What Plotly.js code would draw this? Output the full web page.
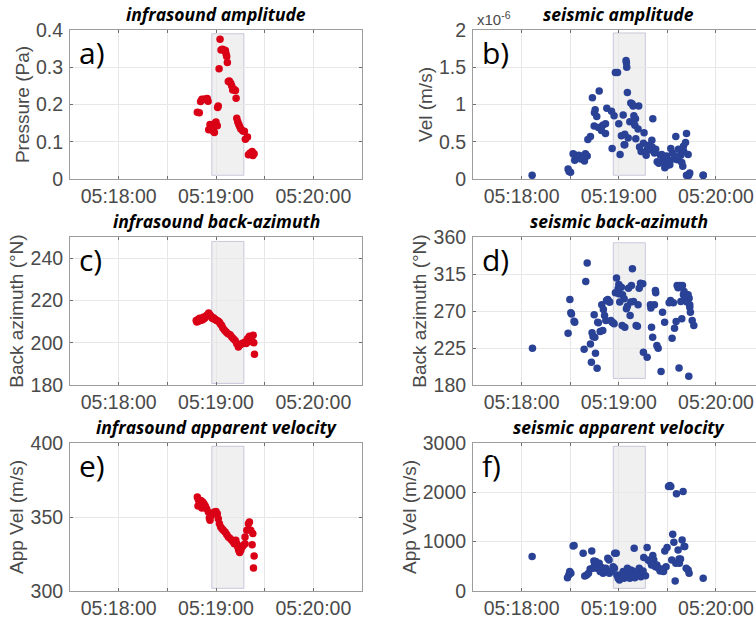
<!DOCTYPE html>
<html>
<head>
<meta charset="utf-8">
<script src="https://cdn.plot.ly/plotly-3.0.1.min.js"></script>
<style>html,body{margin:0;padding:0;background:#fff;}#chart{width:756px;height:618px;}</style>
</head>
<body>
<div id="chart"></div>
<script>
// time in seconds relative to 05:19:00
var tickVals = [-60, 0, 60];
var tickText = ["05:18:00", "05:19:00", "05:20:00"];
var minorGridVals = [-30, 30];

// a) infrasound amplitude (Pa)
var tInfraAmp = [-11.5,-10.3,-9.5,-8.7,-7.4,-6.2,-5.4,-4.9,-4.5,-3.7,-2.7,-1.6,-1.0,-0.6,0,0.8,-1.6,1.0,1.4,1.9,2.5,3.1,3.9,4.9,5.8,6.2,6.6,7.0,7.6,8.2,9.1,9.7,10.3,11.1,12.0,12.4,12.8,13.4,14.0,14.6,15.3,16.5,17.5,18.1,19.4,20.0,21.0,22.3,23.5,22.7];
var infraAmp = [0.179,0.178,0.208,0.214,0.214,0.215,0.216,0.209,0.132,0.146,0.137,0.128,0.125,0.150,0.153,0.143,0.141,0.192,0.196,0.296,0.375,0.346,0.348,0.346,0.345,0.336,0.329,0.3125,0.262,0.263,0.257,0.250,0.239,0.241,0.2375,0.217,0.163,0.154,0.147,0.141,0.134,0.129,0.128,0.107,0.1125,0.065,0.070,0.074,0.068,0.063];

// b) seismic amplitude (x1e-6 m/s)
var tSeisAmp = [-53.5,-31.3,-30.7,-29.8,-28.2,-27.6,-27.2,-24.7,-23.5,-22.2,-21.2,-20.6,-19.5,-19.1,-17.5,-16.3,-15.2,-15.0,-14.6,-13.6,-12.6,-12.1,-11.5,-10.7,-9.9,-8.2,-8.2,-7.4,-4.5,-4.1,-2.9,-2.1,-0.8,0,0.8,1.6,2.7,3.3,3.7,3.7,4.5,4.7,4.9,5.3,5.8,6.8,7.4,8.2,8.8,9.3,9.9,10.3,10.5,11.9,12.3,12.8,13.8,15.2,15.6,16.9,17.7,18.3,19.1,19.8,20.4,20.6,21.0,22.0,22.8,23.7,24.7,25.7,26.5,27.6,28.0,28.4,29.4,29.8,31.3,31.5,32.1,33.1,34.0,34.6,35.2,36.2,36.8,38.3,38.9,39.5,39.9,40.1,41.2,41.8,42.8,43.8,52.1];
var seisAmp = [0.05,0.135,0.10,0.09,0.34,0.33,0.25,0.32,0.27,0.31,0.24,0.34,0.31,0.53,0.57,1.09,0.71,0.89,0.93,0.84,0.69,1.18,0.69,0.65,0.72,0.74,0.61,0.95,0.91,0.41,0.85,1.43,1.43,0.74,0.33,0.58,0.86,0.46,0.46,0.60,1.59,1.56,1.50,1.16,0.55,0.77,1.02,1.01,0.98,0.85,0.72,0.81,0.54,0.67,0.98,0.43,0.37,0.48,0.62,0.32,0.40,0.45,0.43,0.39,0.52,0.43,0.81,0.35,0.40,0.23,0.21,0.32,0.33,0.26,0.22,0.15,0.31,0.18,0.25,0.19,0.41,0.35,0.27,0.31,0.57,0.26,0.40,0.32,0.22,0.17,0.44,0.37,0.49,0.61,0.33,0.08,0.05];
var tSeisAmpTail = [41.8,42.4,43.2,52.1];
var seisAmpTail = [0.05,0.05,0.05,0.05];

// c) infrasound back-azimuth (deg N)
var tInfraBaz = [-12.2,-11.8,-11.1,-10.7,-10.1,-9.5,-8.9,-8.5,-7.9,-7.4,-6.8,-6.2,-5.6,-4.9,-4.5,-3.9,-3.3,-2.7,-2.1,-1.6,-1.0,-0.6,0,0.6,1.4,2.1,2.7,3.5,4.3,5.4,6.4,7.4,8.7,9.7,10.7,11.8,12.8,13.8,14.4,15.3,15.9,16.7,17.9,18.6,19.4,19.8,20.6,21.0,21.6,22.3,22.9,23.3,23.7];
var infraBaz = [210.5,209.8,211.0,210.2,211.6,210.6,211.3,210.8,212.1,211.3,211.8,212.6,212.9,213.5,214.1,213.2,212.7,212.1,211.5,211.8,211.3,211.0,210.7,210.5,210.2,209.7,208.9,208.2,206.9,205.8,205.0,204.2,203.8,202.7,201.9,201.1,199.5,198.0,198.8,199.1,199.6,199.8,200.3,199.6,201.9,200.5,203.0,201.1,202.2,200.4,203.5,200.0,194.5];

// d) seismic back-azimuth (deg N)
var tSeisBaz = [-53.3,-31.3,-30.2,-29.6,-29.2,-27.6,-27.2,-21.4,-20.4,-19.5,-17.5,-16.9,-16.5,-15.9,-15.2,-14.8,-14.4,-13.4,-13.0,-12.6,-11.5,-10.5,-9.9,-9.5,-8.8,-8.0,-7.6,-6.8,-5.8,-5.6,-4.9,-4.1,-3.5,-2.9,-2.1,-1.4,-0.4,0,0,0.6,1.6,2.1,2.3,3.3,3.7,4.7,5.3,6.0,7.0,7.4,7.8,8.4,9.1,10.7,11.5,11.9,12.6,13.4,14.8,15.2,17.5,19.5,19.8,20.2,20.9,22.0,22.6,22.8,23.5,24.3,26.1,27.0,28.3,32.9,33.7,34.4,35.4,36.0,36.6,37.2,37.7,38.3,38.9,39.3,39.9,40.3,41.2,41.6,42.0,42.8,43.4,43.8,44.2,45.3,46.3];
var seisBaz = [224.7,243.0,284.0,267.8,266.5,257.6,256.4,223.5,306.0,328.3,230.0,207.6,243.4,238.9,265.3,238.1,218.6,200.3,256.4,255.6,245.0,277.5,246.2,271.8,264.5,258.4,282.8,284.0,280.8,280.8,258.4,256.4,255.6,254.4,292.1,310.0,297.0,302.3,291.0,280.8,299.0,252.3,289.7,284.8,250.3,272.6,275.9,297.8,264.5,280.8,301.1,321.4,281.6,252.3,251.5,277.5,297.8,303.9,303.1,219.8,213.7,277.5,273.5,250.3,238.1,277.5,295.0,292.1,228.0,224.7,196.3,268.6,256.4,236.9,280.0,249.0,257.2,301.1,298.2,200.7,301.1,281.6,260.5,301.1,289.7,293.8,286.9,289.0,280.8,289.7,285.6,274.7,268.6,258.4,252.3];
var tSeisBazTail = [43.2,43.8,31.9,31.1];
var seisBazTail = [190.6,277.5,282.8,280.0];

// e) infrasound apparent velocity (m/s)
var tInfraVel = [-11.5,-10.9,-10.3,-9.3,-8.2,-7.4,-6.6,-5.8,-4.7,-4.1,-3.7,-3.1,-2.1,-1.0,0,0.8,1.4,2.1,2.9,3.7,4.5,5.6,6.6,7.6,8.7,9.7,10.7,11.3,12.2,12.8,13.4,14.0,14.6,15.3,16.1,16.9,17.9,17.9,19.0,20.0,20.6,21.4,22.3,22.7,23.5,23.1,-11.1,-9.9,-8.7];
var infraVel = [363.5,361.9,360.1,361.2,360.1,359.0,357.4,355.6,353.4,349.3,347.8,350.7,352.2,353.4,353.8,352.2,348.9,345.5,343.3,342.1,341.0,339.9,338.1,336.5,335.4,334.3,333.1,332.0,334.3,332.0,329.8,327.5,326.0,327.5,329.8,330.9,332.0,336.5,341.0,345.5,346.6,341.0,331.3,338.8,323.7,315.6,357.4,358.5,356.0];

// f) seismic apparent velocity (m/s)
var tSeisVel = [-53.5,-31.7,-30.9,-30.3,-29.6,-28.2,-27.6,-22.0,-21.0,-19.8,-18.7,-17.7,-16.7,-16.0,-15.4,-15.0,-14.2,-13.6,-12.6,-12.1,-11.5,-10.5,-9.7,-9.1,-8.0,-6.8,-6.0,-5.8,-4.5,-3.5,-2.7,-2.5,-1.6,-1.2,-0.4,0.4,1.2,1.6,2.7,3.3,3.7,4.7,5.3,6.2,6.8,7.4,8.2,8.6,9.5,9.9,10.7,11.7,12.6,13.6,15.0,15.4,16.5,17.5,18.1,19.3,20.2,21.0,21.6,22.6,23.5,24.5,25.5,27.0,27.6,28.4,29.2,29.8,30.7,31.5,32.1,32.7,33.3,34.0,34.8,35.2,35.6,36.6,37.2,37.4,38.1,39.1,39.7,40.3,40.7,41.6,42.8,43.4,52.1];
var seisVel = [697,271,325,393,359,914,921,765,305,325,359,447,812,460,609,515,596,460,515,562,393,474,359,406,460,663,630,359,406,494,460,765,765,325,257,223,325,291,393,257,359,325,460,379,257,427,325,406,867,271,379,325,460,291,406,677,311,880,630,596,528,718,630,494,528,460,406,447,393,812,494,880,2119,2139,2119,630,1151,988,203,562,1970,833,650,562,650,1036,2018,900,900,460,427,359,257,494];
</script>
<script>
var red = "rgb(218,0,22)";
var blue = "rgb(42,66,150)";
var gray = "#4a4a4a";
var lineCol = "#9c9c9c";
var tickCol = "#707070";
var gridCol = "#e7e7e7";
var tickFont = {family: "Liberation Sans, Arial, sans-serif", size: 19.5, color: gray};

function sc(x, y, xa, ya, color) {
  return {type: "scatter", mode: "markers", x: x, y: y, xaxis: xa, yaxis: ya,
    marker: {color: color, size: 7.5, line: {width: 0}}, hoverinfo: "skip", showlegend: false};
}

var data = [
  sc(tInfraAmp, infraAmp, "x", "y", red),
  sc(tSeisAmp, seisAmp, "x2", "y2", blue),
  sc(tSeisAmpTail, seisAmpTail, "x2", "y2", blue),
  sc(tInfraBaz, infraBaz, "x3", "y3", red),
  sc(tSeisBaz, seisBaz, "x4", "y4", blue),
  sc(tSeisBazTail, seisBazTail, "x4", "y4", blue),
  sc(tInfraVel, infraVel, "x5", "y5", red),
  sc(tSeisVel, seisVel, "x6", "y6", blue)
];

var colL = [70/756, 362/756];
var colR = [473/756, 1.0];
var rows = [[1-179/618, 1-30/618], [1-385/618, 1-237/618], [1-591/618, 1-443/618]];
var xRangeL = [-90, 90];
var xRangeR = [-90, 84.7];

function xax(domain, range, anchor) {
  return {domain: domain, range: range, anchor: anchor, tickmode: "array", tickvals: tickVals, ticktext: tickText,
    minor: {tickmode: "array", tickvals: minorGridVals, showgrid: true, gridcolor: gridCol, ticks: "inside", ticklen: 3, tickcolor: tickCol},
    showgrid: true, gridcolor: gridCol, zeroline: false, showline: true, linecolor: lineCol, linewidth: 1,
    mirror: "ticks", ticks: "inside", ticklen: 3, tickcolor: tickCol, tickfont: tickFont, fixedrange: true};
}
function yax(domain, range, dtick, anchor, title, mirror, tickvals, ticktext) {
  var o = {domain: domain, range: range, anchor: anchor, dtick: dtick, tick0: range[0],
    showgrid: true, gridcolor: gridCol, zeroline: false, showline: true, linecolor: lineCol, linewidth: 1,
    mirror: mirror ? "ticks" : false, ticks: "inside", ticklen: 3, tickcolor: tickCol, tickfont: tickFont, ticklabelstandoff: 2,
    title: {text: title, font: {family: "Liberation Sans, Arial, sans-serif", size: 19, color: gray}, standoff: 1},
    fixedrange: true};
  if (tickvals) { o.tickmode = "array"; o.tickvals = tickvals; o.ticktext = ticktext; }
  return o;
}

var layout = {
  width: 756, height: 618,
  margin: {l: 0, r: 0, t: 0, b: 0},
  paper_bgcolor: "#ffffff", plot_bgcolor: "#ffffff",
  showlegend: false,
  xaxis: xax(colL, xRangeL, "y"),
  yaxis: yax(rows[0], [0, 0.4], 0.1, "x", "Pressure (Pa)", true, [0,0.1,0.2,0.3,0.4], ["0","0.1","0.2","0.3","0.4"]),
  xaxis2: xax(colR, xRangeR, "y2"),
  yaxis2: yax(rows[0], [0, 2], 0.5, "x2", "Vel (m/s)", false, [0,0.5,1,1.5,2], ["0","0.5","1","1.5","2"]),
  xaxis3: xax(colL, xRangeL, "y3"),
  yaxis3: yax(rows[1], [180, 250], 20, "x3", "Back azimuth (°N)", true),
  xaxis4: xax(colR, xRangeR, "y4"),
  yaxis4: yax(rows[1], [180, 360], 45, "x4", "Back azimuth (°N)", false),
  xaxis5: xax(colL, xRangeL, "y5"),
  yaxis5: yax(rows[2], [300, 400], 50, "x5", "App Vel (m/s)", true),
  xaxis6: xax(colR, xRangeR, "y6"),
  yaxis6: yax(rows[2], [0, 3000], 1000, "x6", "App Vel (m/s)", false),
  shapes: [],
  annotations: []
};

var boxes = [
  ["x", "y", -2.6, 17.2, 0.01, 0.39],
  ["x2", "y2", -3.4, 16.4, 0.05, 1.96],
  ["x3", "y3", -2.6, 17.2, 180.75, 247.9],
  ["x4", "y4", -3.4, 16.4, 188, 353],
  ["x5", "y5", -2.6, 17.2, 301.8, 397.8],
  ["x6", "y6", -3.4, 16.4, 53, 2933]
];
boxes.forEach(function (b) {
  layout.shapes.push({type: "rect", xref: b[0], yref: b[1], x0: b[2], x1: b[3], y0: b[4], y1: b[5],
    fillcolor: "rgba(225,225,228,0.5)", line: {color: "rgba(170,170,200,0.6)", width: 1}, layer: "below"});
});

var titles = ["infrasound amplitude", "seismic amplitude", "infrasound back-azimuth", "seismic back-azimuth", "infrasound apparent velocity", "seismic apparent velocity"];
var labels = ["a)", "b)", "c)", "d)", "e)", "f)"];
var axn = ["", "2", "3", "4", "5", "6"];
for (var i = 0; i < 6; i++) {
  layout.annotations.push({xref: "x" + axn[i], yref: "y" + axn[i] + " domain", x: 0, y: 1, yanchor: "bottom", xanchor: "center",
    yshift: 2, showarrow: false, text: "<b><i>" + titles[i] + "</i></b>",
    font: {family: "Open Sans, sans-serif", size: 17.5, color: "#000"}});
  layout.annotations.push({xref: "x" + axn[i] + " domain", yref: "y" + axn[i] + " domain", x: 0, y: 1, xanchor: "left", yanchor: "top",
    xshift: 7, yshift: 0, showarrow: false, text: labels[i],
    font: {family: "Open Sans, sans-serif", size: 30, color: "#000"}});
}
layout.annotations.push({xref: "x2 domain", yref: "y2 domain", x: 0, y: 1, xanchor: "left", yanchor: "bottom",
  xshift: 2, yshift: 0, showarrow: false, text: "x10<sup>-6</sup>",
  font: {family: "Liberation Sans, Arial, sans-serif", size: 15, color: gray}});

Plotly.newPlot("chart", data, layout, {displayModeBar: false, staticPlot: true});
</script>
</body>
</html>
